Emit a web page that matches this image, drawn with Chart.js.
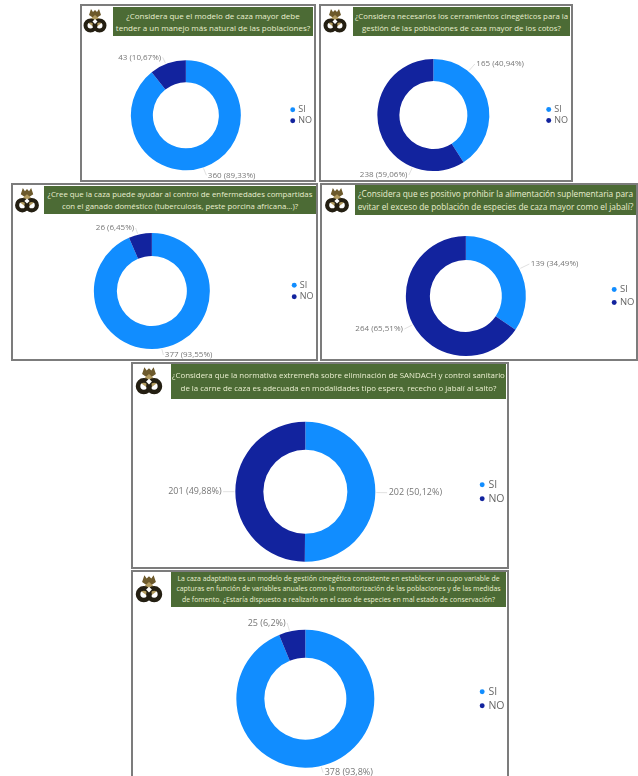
<!DOCTYPE html>
<html lang="es">
<head>
<meta charset="utf-8">
<title>Encuesta caza</title>
<script src="https://cdn.jsdelivr.net/npm/chart.js@4"></script>
<style>
html, body { margin: 0; padding: 0; background: #fff; }
body { width: 638px; height: 776px; overflow: hidden; position: relative; font-family: "Open Sans", sans-serif; }
#page { position: absolute; left: 0; top: 0; width: 638px; height: 776px; overflow: hidden; filter: blur(0.6px); }
.panel { position: absolute; box-sizing: border-box; border: 2px solid #7c7c7c; background: #fff; overflow: hidden; }
.panel canvas { position: absolute; left: 0; top: 0; }
.head { position: absolute; z-index: 2; background: #4c6b35; color: #e9eecf; text-align: center; display: flex; align-items: center; justify-content: center; white-space: nowrap; }
.logo { position: absolute; z-index: 2; }
</style>
</head>
<body>
<svg width="0" height="0" style="position:absolute">
  <symbol id="logo" viewBox="0 0 24 26">
    <path d="M12 11 L6 7 L8 1 L10 4 L12 2 L14 4 L16 1 L18 7 Z" fill="#6d5a2c"/>
    <path d="M12 7 L20 14 L12 20 L4 14 Z" fill="#b19a5e"/>
    <circle cx="7.5" cy="17.5" r="5" fill="none" stroke="#241f12" stroke-width="4"/>
    <circle cx="16.5" cy="17.5" r="5" fill="none" stroke="#241f12" stroke-width="4"/>
    <path d="M12 11 L14.5 13.5 L12 16 L9.5 13.5 Z" fill="#fff"/>
  </symbol>
</svg>
<div id="page"></div>
<script>
const categories = ['SI', 'NO'];
const siValues = [360, 165, 377, 139, 202, 378];
const noValues = [43, 238, 26, 264, 201, 25];
const questions = [
    ['¿Considera que el modelo de caza mayor debe', 'tender a un manejo más natural de las poblaciones?'],
    ['¿Considera necesarios los cerramientos cinegéticos para la', 'gestión de las poblaciones de caza mayor de los cotos?'],
    ['¿Cree que la caza puede ayudar al control de enfermedades compartidas', 'con el ganado doméstico (tuberculosis, peste porcina africana...)?'],
    ['¿Considera que es positivo prohibir la alimentación suplementaria para', 'evitar el exceso de población de especies de caza mayor como el jabalí?'],
    ['¿Considera que la normativa extremeña sobre eliminación de SANDACH y control sanitario', 'de la carne de caza es adecuada en modalidades tipo espera, rececho o jabalí al salto?'],
    ['La caza adaptativa es un modelo de gestión cinegética consistente en establecer un cupo variable de', 'capturas en función de variables anuales como la monitorización de las poblaciones y de las medidas', 'de fomento. ¿Estaría dispuesto a realizarlo en el caso de especies en mal estado de conservación?']
];

const colors = ['#118dff', '#12239e'];

// cajas de cada panel, en pixeles de la pagina
const panels = [
    { x: 80, y: 4, w: 236, h: 178, head: [113, 7, 200, 29], logo: [83, 8, 24, 26], font: 8, lh: 12, cx: 184.7, cy: 115.3, r: 55, hole: 33, legendRight: 310, legendFont: 9, legendGap: 11, labelFont: 8, offs: [[22, 60, 'left'], [-24.7, -58, 'right']] },
    { x: 319, y: 4, w: 254, h: 178, head: [353, 7, 217, 29], logo: [322, 8, 26, 26], font: 7.8, lh: 12, cx: 433, cy: 115, r: 56, hole: 34, legendRight: 566, legendFont: 9, legendGap: 11, labelFont: 8, offs: [[43, -51, 'left'], [-26, 60, 'right']] },
    { x: 11, y: 183, w: 307, h: 178, head: [44, 186, 272, 28], logo: [14, 187, 26, 27], font: 7.8, lh: 12, cx: 151.7, cy: 291, r: 58, hole: 35, legendRight: 311, legendFont: 9, legendGap: 11.5, labelFont: 8, offs: [[13, 64, 'left'], [-17.7, -63, 'right']] },
    { x: 320, y: 183, w: 318, h: 178, head: [355, 185, 281, 30], logo: [324, 187, 26, 27], font: 8.3, lh: 13, cx: 465, cy: 296, r: 60, hole: 36, legendRight: 631, legendFont: 9.5, legendGap: 13, labelFont: 8, offs: [[65, -32, 'left'], [-63, 33, 'right']] },
    { x: 131, y: 362, w: 378, h: 207, head: [171, 364, 335, 35], logo: [135, 366, 28, 30], font: 7.9, lh: 13, cx: 304.7, cy: 491.7, r: 70, hole: 42, legendRight: 501, legendFont: 10.5, legendGap: 14, labelFont: 9, offs: [[83.3, 1, 'left'], [-83.7, 0, 'right']] },
    { x: 131, y: 570, w: 378, h: 210, head: [171, 572, 335, 35], logo: [135, 574, 28, 30], font: 6.9, lh: 10.5, cx: 304.7, cy: 698.7, r: 69, hole: 41, legendRight: 501, legendFont: 10.5, legendGap: 14, labelFont: 9, offs: [[19.3, 74, 'left'], [-19.7, -75.7, 'right']] }
];

function labelText(value, total) {
    const pct = (value / total * 100).toFixed(2).replace(/0$/, '').replace('.', ',');
    return value + ' (' + pct + '%)';
}

// etiquetas exteriores con su linea guia
const outLabels = {
    id: 'outLabels',
    afterDatasetsDraw(chart, args, opts) {
        const ctx = chart.ctx;
        const arcs = chart.getDatasetMeta(0).data;
        const values = chart.data.datasets[0].data;
        const total = values[0] + values[1];
        ctx.save();
        ctx.font = opts.size + 'px "Open Sans"';
        ctx.textBaseline = 'middle';
        arcs.forEach((arc, i) => {
            const off = opts.offs[i];
            const lx = arc.x + off[0];
            const ly = arc.y + off[1];
            const dir = off[2] === 'left' ? -1 : 1;
            const ang = Math.atan2(ly - arc.y, lx + dir * 2 - arc.x);
            ctx.strokeStyle = '#d9d9d9';
            ctx.lineWidth = 0.8;
            ctx.beginPath();
            ctx.moveTo(lx + dir * 1.5, ly);
            ctx.lineTo(arc.x + Math.cos(ang) * (arc.outerRadius + 1), arc.y + Math.sin(ang) * (arc.outerRadius + 1));
            ctx.stroke();
            ctx.fillStyle = '#777';
            ctx.textAlign = off[2];
            ctx.fillText(labelText(values[i], total), lx, ly);
        });
        ctx.restore();
    }
};

const page = document.getElementById('page');

panels.forEach((p, i) => {
    const panel = document.createElement('div');
    panel.className = 'panel';
    panel.style.cssText = `left:${p.x}px;top:${p.y}px;width:${p.w}px;height:${p.h}px`;
    page.appendChild(panel);

    const head = document.createElement('div');
    head.className = 'head';
    head.style.cssText = `left:${p.head[0] - p.x - 2}px;top:${p.head[1] - p.y - 2}px;width:${p.head[2]}px;height:${p.head[3]}px;font-size:${p.font}px;line-height:${p.lh}px`;
    const inner = document.createElement('div');
    questions[i].forEach((line, n) => {
        if (n) inner.appendChild(document.createElement('br'));
        inner.appendChild(document.createTextNode(line));
    });
    head.appendChild(inner);
    panel.appendChild(head);

    const logo = document.createElementNS('http://www.w3.org/2000/svg', 'svg');
    logo.setAttribute('class', 'logo');
    logo.setAttribute('viewBox', '0 0 24 26');
    logo.style.cssText = `left:${p.logo[0] - p.x - 2}px;top:${p.logo[1] - p.y - 2}px;width:${p.logo[2]}px;height:${p.logo[3]}px`;
    const use = document.createElementNS('http://www.w3.org/2000/svg', 'use');
    use.setAttribute('href', '#logo');
    logo.appendChild(use);
    panel.appendChild(logo);

    // el lienzo sobresale a la derecha porque la leyenda reserva 10px de mas
    const w = p.w + 16;
    const h = p.h - 4;
    const box = document.createElement('div');
    box.style.cssText = `position:absolute;left:0;top:0;width:${w}px;height:${h}px`;
    const canvas = document.createElement('canvas');
    box.appendChild(canvas);
    panel.appendChild(box);

    const cx = p.cx - p.x - 2;
    const cy = p.cy - p.y - 2;
    const legendPad = p.legendGap - p.legendFont;
    const padR = w - (p.legendRight + 10 + legendPad - p.x - 2);
    const chart = new Chart(canvas.getContext('2d'), {
        type: 'doughnut',
        data: {
            labels: categories,
            datasets: [{
                data: [siValues[i], noValues[i]],
                backgroundColor: colors,
                borderWidth: 0,
                radius: p.r,
                cutout: (p.hole / p.r * 100) + '%'
            }]
        },
        options: {
            responsive: true,
            maintainAspectRatio: false,
            animation: false,
            layout: { padding: { left: 0, right: padR, top: Math.max(2 * cy - h, 0), bottom: Math.max(h - 2 * cy, 0) } },
            plugins: {
                tooltip: { enabled: false },
                legend: {
                    position: 'right',
                    labels: {
                        usePointStyle: true,
                        pointStyle: 'circle',
                        boxWidth: 2,
                        boxHeight: 3.5,
                        padding: legendPad,
                        color: '#666',
                        font: { family: '"Open Sans"', size: p.legendFont }
                    }
                },
                outLabels: { size: p.labelFont, offs: p.offs }
            }
        },
        plugins: [outLabels]
    });
    // centrar el anillo donde toca, descontando la leyenda
    chart.options.layout.padding.left = 2 * cx - (w - padR - chart.legend.width) - 3;
    chart.update('none');
});
</script>
</body>
</html>
